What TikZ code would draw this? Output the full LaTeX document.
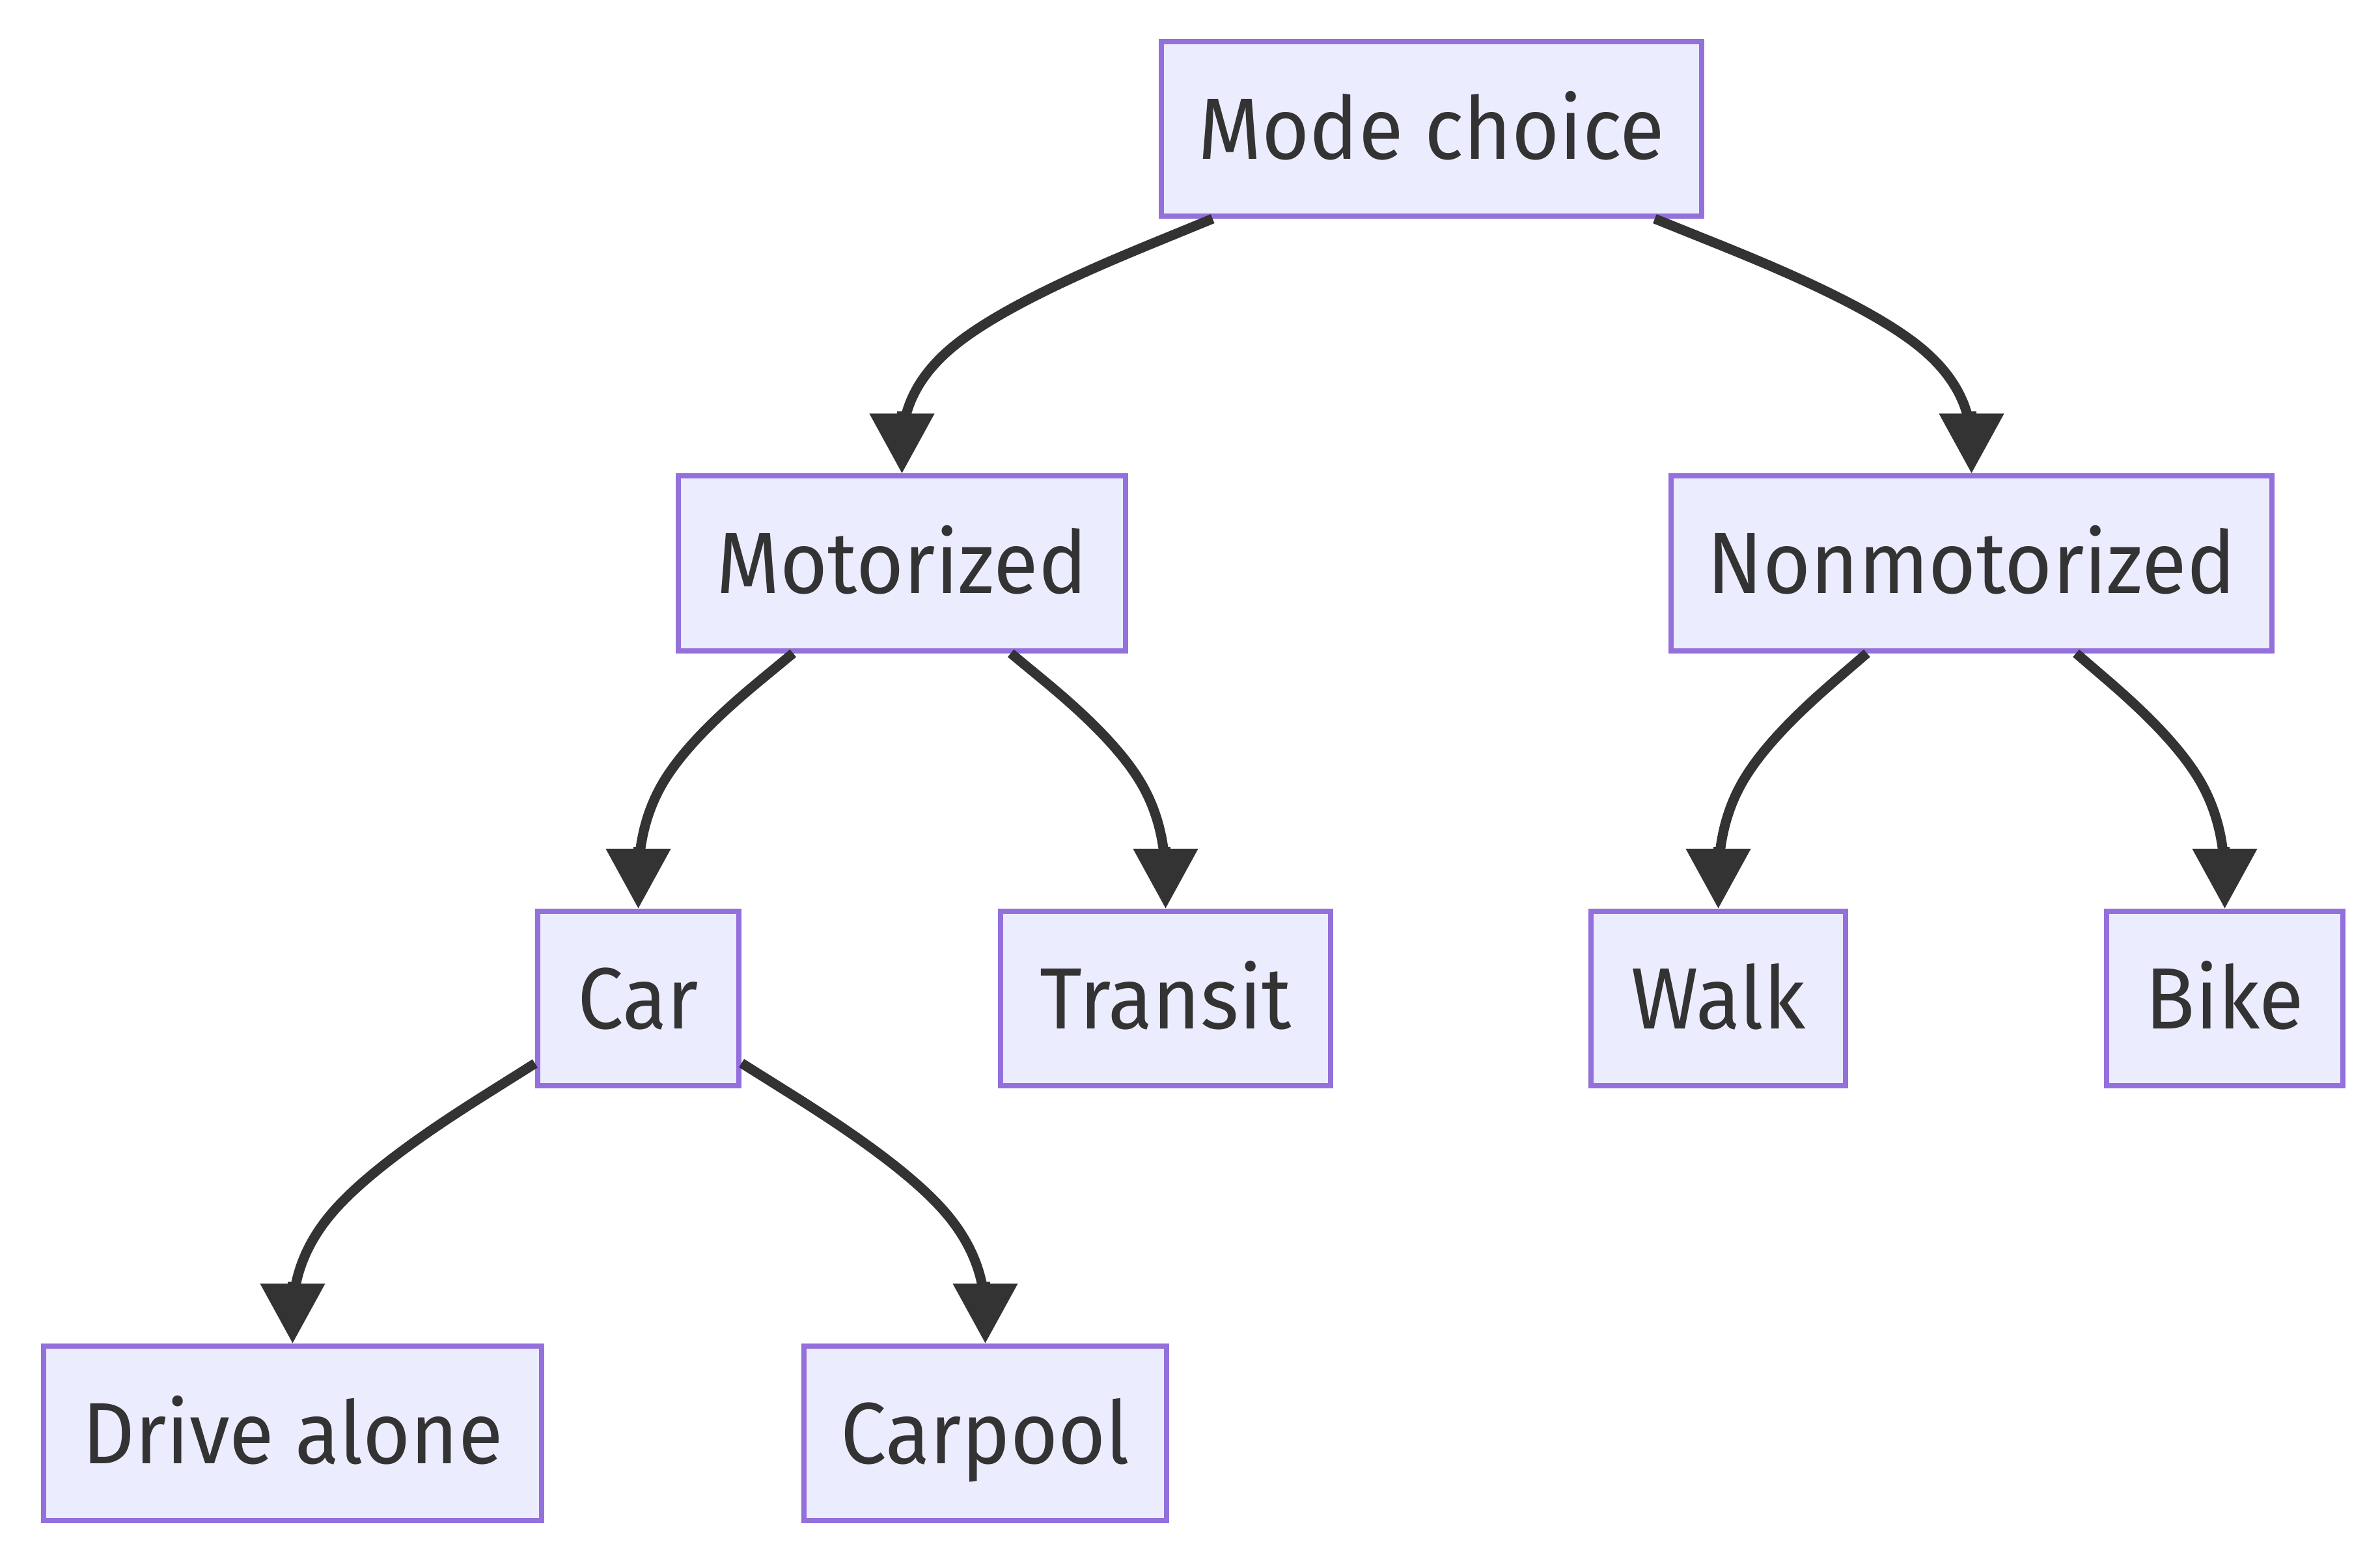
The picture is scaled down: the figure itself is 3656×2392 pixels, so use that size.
\documentclass[tikz,border=0pt]{standalone}
\usepackage{fontspec}
\setmainfont{Fira Sans}[FakeStretch=0.94]
\usetikzlibrary{arrows.meta,calc}
\definecolor{nodefill}{HTML}{ECECFF}
\definecolor{nodeborder}{HTML}{9370DB}
\definecolor{ink}{HTML}{333333}
\newcommand{\mmedge}[3]{%
  \coordinate (#3m) at ($(#1.south)!0.5!(#2.north)$);
  \coordinate (#3b) at (#2.north |- #3m);
  \path (#1) -- (#3b) coordinate[pos=0] (#3a);
  \coordinate (#3c) at (#2.north);
  \coordinate (#3h) at ($(#3a)!0.5!(#3c)$);
  \draw[edgeline] (#3a) -- ($(#3a)!1/6!(#3b)$)
     .. controls ($(#3a)!1/3!(#3b)$) and ($(#3a)!2/3!(#3b)$) .. ($(#3b)!1/3!(#3h)$)
     .. controls ($(#3b)!1/3!(#3c)$) and ($(#3b)!2/3!(#3c)$) .. ($(#3b)!5/6!(#3c)$);
  \draw[edgetip] ($(#3c)+(0,-95)$) -- (#3c);
}
\begin{document}
\begin{tikzpicture}[x=0.01cm,y=-0.01cm,
  box/.style={draw=nodeborder, fill=nodefill, line width=0.08cm, rectangle,
    minimum height=2.68cm, inner sep=0pt, text=ink,
    font=\fontsize{38}{46}\selectfont, text height=0.92cm, text depth=0cm},
  edgeline/.style={draw=ink, line width=0.15cm, line cap=butt},
  edgetip/.style={draw=ink, line width=0.15cm,
    -{Triangle[width=0.96cm, length=0.92cm, fill=ink]}}]
\useasboundingbox (0,0) rectangle (3656,2392);
\fill[white] (0,0) rectangle (3656,2392);

\node[box, minimum width=8.30cm] (mc) at (2199,198) {Mode choice};
\node[box, minimum width=6.87cm] (mot) at (1385.5,865.5) {Motorized};
\node[box, minimum width=9.23cm] (non) at (3028.5,865.5) {Nonmotorized};
\node[box, minimum width=3.09cm] (car) at (980.5,1534) {Car};
\node[box, minimum width=5.07cm] (tra) at (1790.5,1534) {Transit};
\node[box, minimum width=3.91cm] (walk) at (2639.5,1534) {Walk};
\node[box, minimum width=3.63cm] (bike) at (3417.5,1534) {Bike};
\node[box, minimum width=7.65cm] (drv) at (449.5,2202) {Drive alone};
\node[box, minimum width=5.57cm] (cp) at (1513.5,2202) {Carpool};

\mmedge{mc}{mot}{ea}
\mmedge{mc}{non}{eb}
\mmedge{mot}{car}{ec}
\mmedge{mot}{tra}{ed}
\mmedge{non}{walk}{ee}
\mmedge{non}{bike}{ef}
\mmedge{car}{drv}{eg}
\mmedge{car}{cp}{eh}
\end{tikzpicture}
\end{document}
